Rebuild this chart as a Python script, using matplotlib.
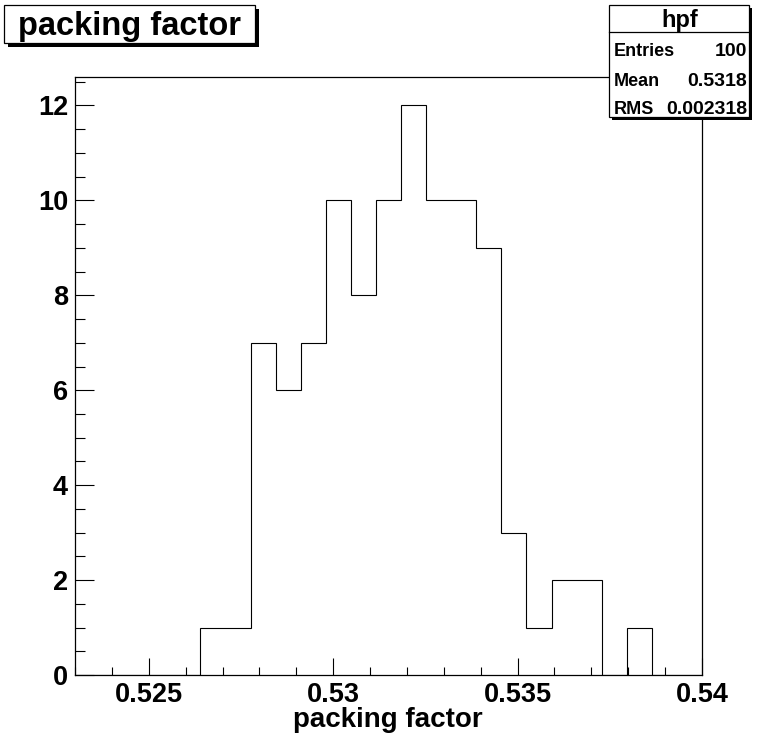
import numpy as np
import matplotlib
matplotlib.use("Agg")
import matplotlib.pyplot as plt
from matplotlib.patches import Rectangle
from matplotlib.ticker import MultipleLocator, FixedLocator, FixedFormatter

# ---- data ----
x_min, x_max, n_bins = 0.523, 0.540, 25
counts = [0, 0, 0, 0, 0, 1, 1, 7, 6, 7, 10, 8, 10, 12, 10, 10, 9, 3, 1, 2, 2, 0, 1, 0, 0]
x_major = [0.525, 0.53, 0.535, 0.54]
x_major_labels = ["0.525", "0.53", "0.535", "0.54"]
y_major = [0, 2, 4, 6, 8, 10, 12]
title_text = "packing factor"
xlabel_text = "packing factor"
stats_name = "hpf"
stats_rows = [("Entries", "100"), ("Mean", "0.5318"), ("RMS", "0.002318")]

W, H = 757, 740
plt.rcParams['font.family'] = ['Liberation Sans', 'DejaVu Sans']
plt.rcParams['font.weight'] = 'bold'

fig = plt.figure(figsize=(W / 100, H / 100), dpi=100)

def fx(px):
    return px / W

def fy(py):
    return 1 - py / H

ax_l, ax_r, ax_t, ax_b = 75, 702, 77, 675
ax = fig.add_axes([fx(ax_l), fy(ax_b), fx(ax_r) - fx(ax_l), fy(ax_t) - fy(ax_b)])

edges = np.linspace(x_min, x_max, n_bins + 1)
ax.stairs(counts, edges, color='black', linewidth=0.8)
ax.set_xlim(x_min, x_max)
ax.set_ylim(0, 12.6)

ax.xaxis.set_major_locator(FixedLocator(x_major))
ax.xaxis.set_major_formatter(FixedFormatter(x_major_labels))
ax.xaxis.set_minor_locator(MultipleLocator(0.001))
ax.yaxis.set_major_locator(FixedLocator(y_major))
ax.yaxis.set_minor_locator(MultipleLocator(0.5))

ax.tick_params(axis='both', which='both', direction='in', top=False, right=False,
               color='black', width=0.8, labelsize=19.5)
ax.tick_params(axis='x', which='major', length=12.2, pad=5)
ax.tick_params(axis='x', which='minor', length=5.8)
ax.tick_params(axis='y', which='major', length=13.5, pad=5)
ax.tick_params(axis='y', which='minor', length=7)
for lab in ax.get_xticklabels() + ax.get_yticklabels():
    lab.set_fontweight('bold')
for s in ax.spines.values():
    s.set_linewidth(0.9)
    s.set_color('black')

fig.text(fx(388), fy(720), xlabel_text, ha='center', va='center',
         fontsize=20, fontweight='bold')

# ---- title box with shadow ----
def shadow_box(x0, y0, x1, y1, off=4):
    fig.patches.append(Rectangle((fx(x0 + off), fy(y1 + off)), fx(x1 - x0), fy(y0) - fy(y1),
                                 transform=fig.transFigure, facecolor='black',
                                 edgecolor='none', zorder=10))
    fig.patches.append(Rectangle((fx(x0), fy(y1)), fx(x1 - x0), fy(y0) - fy(y1),
                                 transform=fig.transFigure, facecolor='white',
                                 edgecolor='black', linewidth=0.9, zorder=11))

shadow_box(4, 5, 255, 43, off=4)
fig.text(fx(129), fy(26), title_text, ha='center', va='center',
         fontsize=23.5, fontweight='bold', zorder=12)

# ---- stats box ----
shadow_box(609, 5, 749, 117, off=3)
fig.lines.append(plt.Line2D([fx(609), fx(749)], [fy(32), fy(32)], transform=fig.transFigure,
                            color='black', linewidth=0.9, zorder=12))
fig.text(fx(680), fy(20), stats_name, ha='center', va='center',
         fontsize=17, fontweight='bold', zorder=12)
row_y = [51, 81, 109]
for (lab, val), yy in zip(stats_rows, row_y):
    fig.text(fx(614), fy(yy), lab, ha='left', va='center', fontsize=13,
             fontweight='bold', zorder=12)
    fig.text(fx(747), fy(yy), val, ha='right', va='center', fontsize=14,
             fontweight='bold', zorder=12)

fig.savefig("out.png", dpi=100)
